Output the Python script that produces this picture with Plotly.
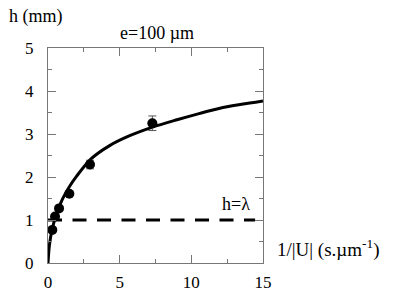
import plotly.graph_objects as go

# measured data points
pts_x = [0.30, 0.49, 0.77, 1.49, 2.93, 7.28]
pts_h = [0.77, 1.08, 1.27, 1.61, 2.29, 3.25]
pts_err = [0.0, 0.0, 0.0, 0.0, 0.10, 0.17]

# fitted curve
curve_x = [0, 0.1, 0.3, 0.6, 1.0, 1.5, 2.0, 3.0, 4.3, 5.7, 7.3, 9.0, 10.6, 12.0, 13.5, 15.0]
curve_h = [0, 0.42, 0.80, 1.15, 1.48, 1.78, 2.02, 2.42, 2.73, 2.96, 3.16, 3.33, 3.48, 3.60, 3.69, 3.77]

# h = lambda line
lam_x = [0, 14.45]
lam_h = [1, 1]

font = "Times New Roman, Liberation Serif, serif"

fig = go.Figure()
fig.add_trace(go.Scatter(x=lam_x, y=lam_h, mode="lines",
                         line=dict(color="black", width=3, dash="14px,10.5px"),
                         hoverinfo="skip"))
fig.add_trace(go.Scatter(x=curve_x, y=curve_h, mode="lines",
                         line=dict(color="black", width=3, shape="spline", smoothing=0.8),
                         hoverinfo="skip"))
fig.add_trace(go.Scatter(x=pts_x, y=pts_h, mode="markers",
                         marker=dict(color="black", size=10),
                         error_y=dict(type="data", array=pts_err, color="#555", thickness=1, width=4)))

axis_common = dict(showline=True, linecolor="#777", linewidth=1, mirror="allticks",
                   ticks="inside", ticklen=8, tickcolor="#777", tickwidth=1,
                   showgrid=False, zeroline=False,
                   tickfont=dict(family=font, size=17, color="black"))

fig.update_xaxes(range=[0, 15], dtick=5, tick0=0,
                 minor=dict(dtick=2.5, ticklen=4, ticks="inside", tickcolor="#777"),
                 ticklabelstandoff=4, **axis_common)
fig.update_yaxes(range=[0, 5], dtick=1, tick0=0,
                 minor=dict(dtick=0.5, ticklen=4, ticks="inside", tickcolor="#777"),
                 ticklabelstandoff=10, **axis_common)

W, H = 401, 300
L, R, T, B = 48, 138, 48, 37
pw, ph = W - L - R, H - T - B

def px2paper(px, py):
    return (px - L) / pw, (H - B - py) / ph

anns = []
for text, px, py, xa, fs in [("h (mm)", 7, 16, "left", 18),
                             ("e=100 µm", 157, 33, "center", 18),
                             ("1/|U| (s.µm<sup>-1</sup>)", 275, 248, "left", 19)]:
    x, y = px2paper(px, py)
    anns.append(dict(text=text, x=x, y=y, xref="paper", yref="paper", showarrow=False,
                     xanchor=xa, yanchor="middle",
                     font=dict(family=font, size=fs, color="black")))
anns.append(dict(text="h=λ", x=13.15, y=1.37, xref="x", yref="y", showarrow=False,
                 font=dict(family=font, size=18, color="black")))

fig.update_layout(
    width=W, height=H,
    margin=dict(l=L, r=R, t=T, b=B, autoexpand=False),
    plot_bgcolor="white", paper_bgcolor="white",
    showlegend=False,
    annotations=anns,
    font=dict(family=font),
)

fig.write_html("out.html", config={"displayModeBar": False},
               post_script="document.body.style.margin='0';document.body.style.overflow='hidden';")
